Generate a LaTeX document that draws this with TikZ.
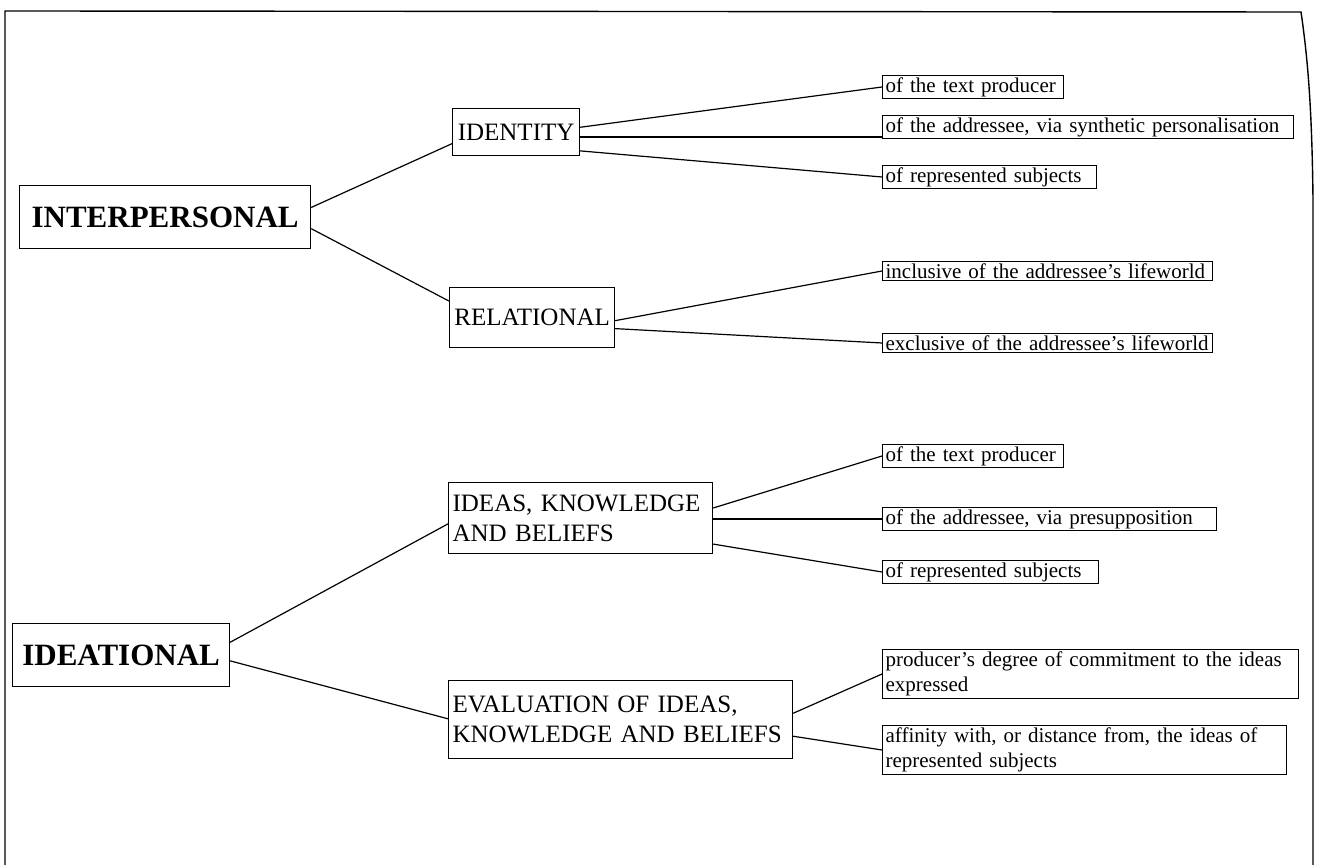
\documentclass[tikz,border=0pt]{standalone}
\usepackage{fontspec}
\setmainfont{Liberation Serif}
\usetikzlibrary{positioning,calc}

\begin{document}
\begin{tikzpicture}[x=0.5pt,y=-0.5pt,
	mainbox/.style={draw, line width=0.6pt, anchor=north west, inner xsep=3pt, font=\fontsize{15.5}{18}\selectfont\bfseries},
	subbox/.style={draw, line width=0.6pt, anchor=north west, inner xsep=2pt, align=left, font=\fontsize{12.5}{15}\selectfont},
	leafbox/.style={draw, line width=0.6pt, anchor=west, inner xsep=1.5pt, inner ysep=1pt, align=left, font=\fontsize{10.5}{12.5}\selectfont},
	branch/.style={line width=0.6pt}]
			\useasboundingbox (0,0) rectangle (1317,865);
			% open frame
			\draw[line width=0.7pt] (5,865) -- (5,11) -- (1301,12) .. controls (1308,60) and (1312,110) .. (1313,200) -- (1313,865);
			
			\node[mainbox, minimum width=145.5pt, minimum height=31.5pt] (interp) at (19,185) {INTERPERSONAL};
			\node[mainbox, minimum width=108.5pt, minimum height=31.5pt] (ideat) at (12,623) {IDEATIONAL};
			
			\node[subbox, minimum width=63.5pt, minimum height=23.5pt] (identity) at (452,108) {IDENTITY};
			\node[subbox, minimum width=82.5pt, minimum height=30pt] (relational) at (449,287) {RELATIONAL};
			\node[subbox, text width=128pt, minimum height=35.5pt] (ideas) at (448,482) {IDEAS, KNOWLEDGE\\AND BELIEFS};
			\node[subbox, text width=168pt, minimum height=39pt] (eval) at (448,680) {EVALUATION OF IDEAS,\\KNOWLEDGE AND BELIEFS};
			
			\node[leafbox, text width=87.5pt] (idprod) at (882,87) {of the text producer};
			\node[leafbox, text width=202.5pt] (idaddr) at (882,127) {of the addressee, via synthetic personalisation};
			\node[leafbox, text width=104pt] (idsubj) at (882,177) {of represented subjects};
			\node[leafbox, text width=162pt] (relin) at (882,271) {inclusive of the addressee's lifeworld};
			\node[leafbox, text width=162pt] (relex) at (882,343) {exclusive of the addressee's lifeworld};
			\node[leafbox, text width=87.5pt] (ikprod) at (882,456) {of the text producer};
			\node[leafbox, text width=164pt] (ikaddr) at (882,519) {of the addressee, via presupposition};
			\node[leafbox, text width=105pt] (iksubj) at (882,572) {of represented subjects};
			\node[leafbox, text width=205pt] (evcomm) at (882,674) {producer's degree of commitment to the ideas\\expressed};
			\node[leafbox, text width=199pt] (evaff) at (882,750) {affinity with, or distance from, the ideas of\\represented subjects};
			
			\draw[branch] ($(interp.north east)!0.35!(interp.south east)$) -- ($(identity.north west)!0.74!(identity.south west)$);
			\draw[branch] ($(interp.north east)!0.68!(interp.south east)$) -- ($(relational.north west)!0.23!(relational.south west)$);
			\draw[branch] ($(identity.north east)!0.4!(identity.south east)$) -- (idprod.west);
			\draw[branch] ($(identity.north east)!0.6!(identity.south east)$) coordinate (idmid) -- (idmid -| idaddr.west);
			\draw[branch] ($(identity.north east)!0.89!(identity.south east)$) -- (idsubj.west);
			\draw[branch] ($(relational.north east)!0.55!(relational.south east)$) -- (relin.west);
			\draw[branch] ($(relational.north east)!0.68!(relational.south east)$) -- (relex.west);
			
			\draw[branch] ($(ideat.north east)!0.3!(ideat.south east)$) -- ($(ideas.north west)!0.58!(ideas.south west)$);
			\draw[branch] ($(ideat.north east)!0.59!(ideat.south east)$) -- ($(eval.north west)!0.49!(eval.south west)$);
			\draw[branch] ($(ideas.north east)!0.36!(ideas.south east)$) -- (ikprod.west);
			\draw[branch] (ikaddr.west -| ideas.east) -- (ikaddr.west);
			\draw[branch] ($(ideas.north east)!0.86!(ideas.south east)$) -- (iksubj.west);
			\draw[branch] ($(eval.north east)!0.42!(eval.south east)$) -- (evcomm.west);
			\draw[branch] ($(eval.north east)!0.71!(eval.south east)$) -- (evaff.west);
		\end{tikzpicture}
\end{document}
